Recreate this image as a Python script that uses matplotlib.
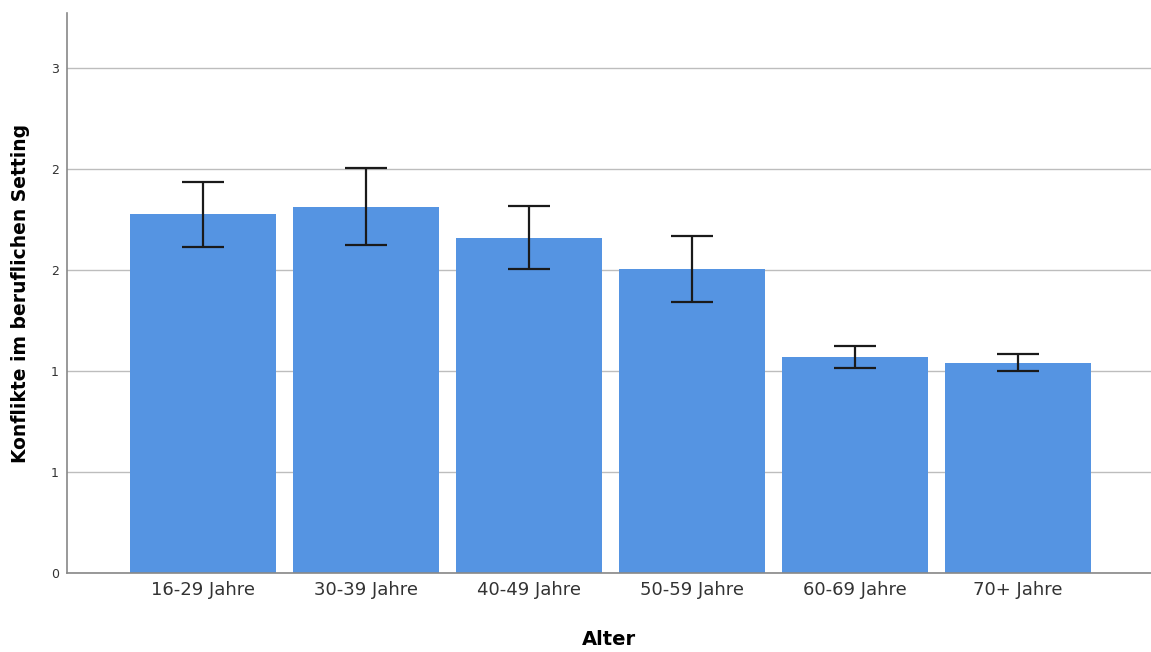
import numpy as np
import matplotlib
matplotlib.use("Agg")
import matplotlib.pyplot as plt

# Mittelwerte und Konfidenzintervalle je Altersgruppe
categories = ["16-29 Jahre", "30-39 Jahre", "40-49 Jahre", "50-59 Jahre", "60-69 Jahre", "70+ Jahre"]
means = [1.777, 1.812, 1.658, 1.505, 1.069, 1.040]
ci_upper = [1.936, 2.005, 1.817, 1.668, 1.124, 1.084]
ci_lower = [1.614, 1.624, 1.505, 1.342, 1.015, 1.000]

y_ticks = [0, 0.5, 1.0, 1.5, 2.0, 2.5]
y_tick_labels = ["0", "1", "1", "2", "2", "3"]

x = np.arange(len(categories))
means = np.array(means)
err = [means - np.array(ci_lower), np.array(ci_upper) - means]

fig = plt.figure(figsize=(11.51, 6.52), dpi=100)
ax = fig.add_axes([0.0582, 0.1212, 0.9418, 0.8588])

ax.bar(x, means, width=0.896, color="#5594e2", zorder=2)
ax.errorbar(x, means, yerr=err, fmt="none", ecolor="#1a1a1a",
            elinewidth=1.6, capsize=15, capthick=1.6, zorder=3)

ax.set_xlim(-0.834, 5.816)
ax.set_ylim(0, 2.77)
ax.set_yticks(y_ticks)
ax.set_yticklabels(y_tick_labels, fontsize=9, color="#333333")
ax.set_xticks(x)
ax.set_xticklabels(categories, fontsize=13, color="#333333")
ax.tick_params(axis="both", length=0)
ax.tick_params(axis="y", pad=6)
ax.tick_params(axis="x", pad=6)

ax.yaxis.grid(True, color="#bdbdbd", linewidth=1.0, zorder=0)
ax.set_axisbelow(True)

for s in ["top", "right"]:
    ax.spines[s].set_visible(False)
for s in ["left", "bottom"]:
    ax.spines[s].set_color("#888888")
    ax.spines[s].set_linewidth(1.2)

ax.set_xlabel("Alter", fontsize=14, fontweight="bold", labelpad=22)
ax.set_ylabel("Konflikte im beruflichen Setting", fontsize=13.5, fontweight="bold", labelpad=15)

fig.savefig("out.png", dpi=100)
